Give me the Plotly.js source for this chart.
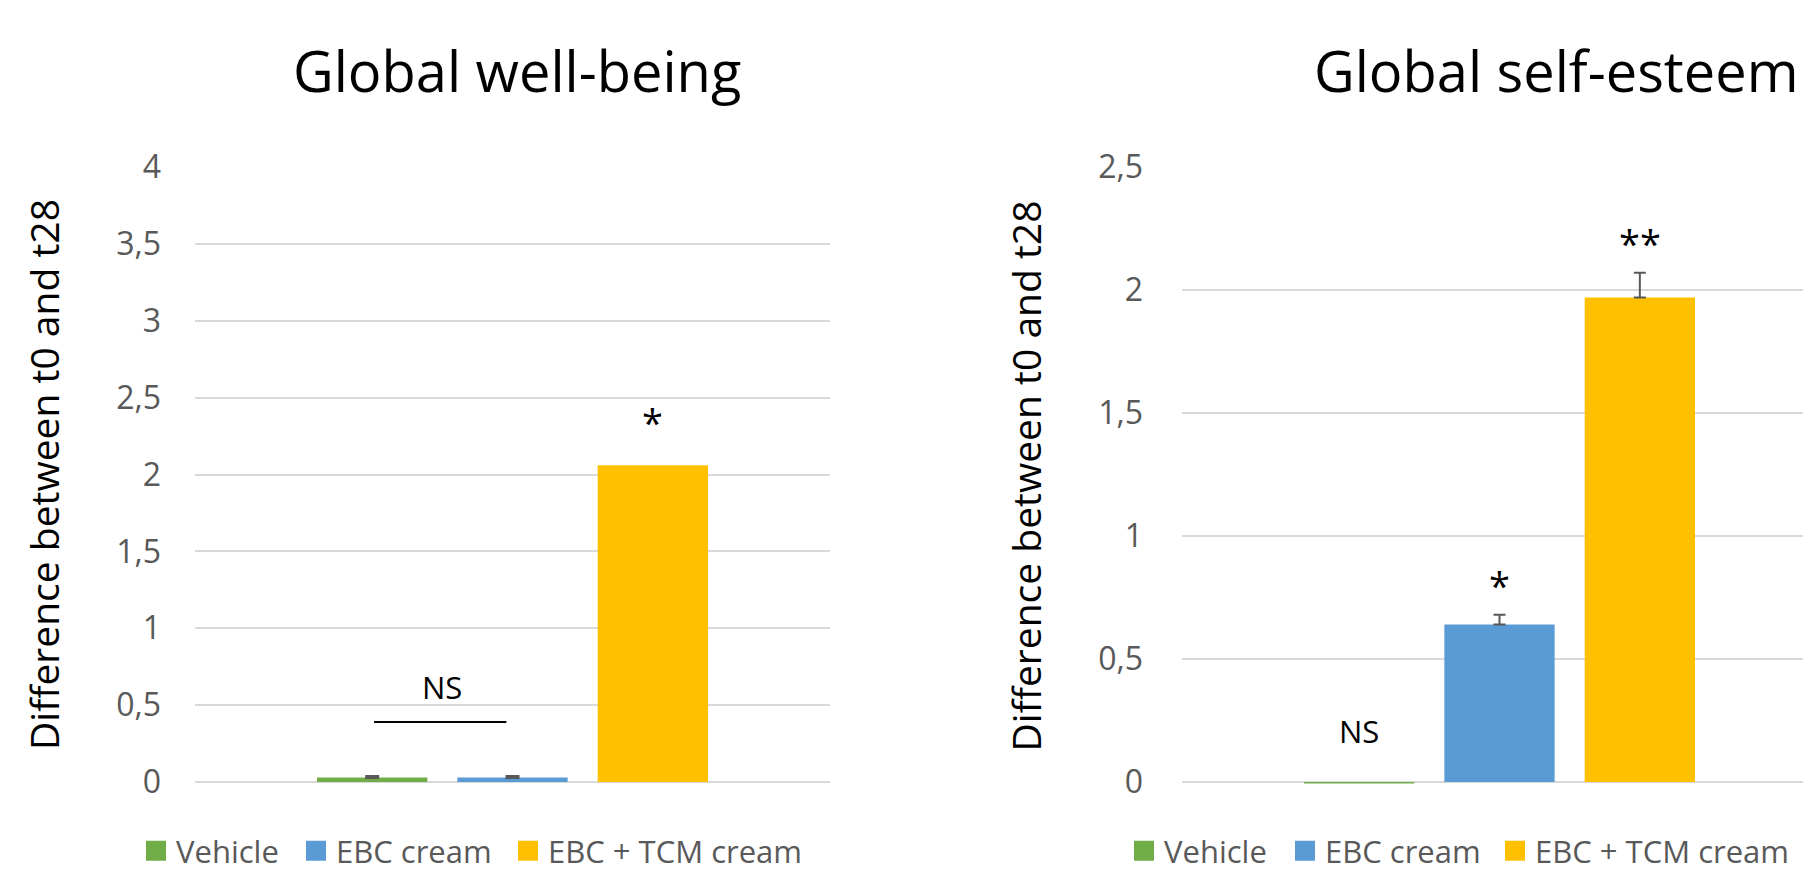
<!DOCTYPE html>
<html>
<head>
<meta charset="utf-8">
<script src="https://cdn.plot.ly/plotly-3.0.1.min.js"></script>
<style>
  html, body { margin: 0; padding: 0; background: #ffffff; overflow: hidden; }
  #chart { width: 1803px; height: 872px; }
</style>
</head>
<body>
<div id="chart"></div>
<script>
// Treatment groups and colours
const groups = ['Vehicle', 'EBC cream', 'EBC + TCM cream'];
const groupColors = ['#70AD47', '#5B9BD5', '#FFC000'];

// Mean difference between t0 and t28 for each score
const wellBeing = [0.03, 0.03, 2.06];
const wellBeingErr = [0.005, 0.005, 0];
const selfEsteem = [-0.006, 0.64, 1.97];
const selfEsteemErr = [0, 0.04, 0.10];

// Significance marks above each bar
const wellBeingSig = ['', '', '*'];
const selfEsteemSig = ['NS', '*', '**'];
const wellBeingPairLabel = 'NS';
const wellBeingPairLevel = 0.39;

const chartTitles = ['Global well-being', 'Global self-esteem'];
const yTitle = 'Difference between t0 and t28';
const category = ['t28'];

const W = 1803, H = 872;
const FONT = '"Open Sans", Lato, sans-serif';
const BARGAP = 0.337;

// plot geometry (pixels)
const plotW = 635;
const left1 = 195, left2 = 1182;
const zeroPx = 782;
const topPx = 167;
// left edge of each legend entry, per panel
const legendLeft = [[136, 296, 508], [1124, 1285, 1495]];

// keeps value 0 on the same pixel row for both panels
function yDomain(range) {
  const pxPerUnit = (zeroPx - topPx) / range[1];
  const b = zeroPx + (-range[0]) * pxPerUnit;
  return [(H - b) / H, (H - topPx) / H];
}

const legendFont = { family: FONT, size: 31, color: '#595959' };
const legends = {};
const traces = [];
function addPanel(panel, values, errs, xa, ya, capThickness, capWidth) {
  groups.forEach((g, i) => {
    traces.push({
      type: 'bar', x: category, y: [values[i]], name: g, showlegend: false,
      marker: { color: groupColors[i] },
      error_y: { type: 'data', array: [errs[i]], arrayminus: [0], symmetric: false,
                 visible: errs[i] > 0, color: '#595959', thickness: capThickness, width: capWidth },
      xaxis: xa, yaxis: ya, hoverinfo: 'skip'
    });
  });
  // square legend keys, one legend box per entry
  groups.forEach((g, i) => {
    const n = panel * groups.length + i + 1;
    const id = n === 1 ? 'legend' : 'legend' + n;
    legends[id] = {
      orientation: 'h', x: legendLeft[panel][i] / W, xanchor: 'left',
      y: (H - 851) / H, yanchor: 'middle', font: legendFont,
      itemclick: false, itemdoubleclick: false, bgcolor: 'rgba(0,0,0,0)'
    };
    traces.push({
      type: 'scatter', mode: 'markers', x: [null], y: [null], name: g,
      marker: { symbol: 'square', size: 16, color: groupColors[i], line: { color: groupColors[i], width: 4 } },
      xaxis: xa, yaxis: ya, legend: id, hoverinfo: 'skip'
    });
  });
}
addPanel(0, wellBeing, wellBeingErr, 'x', 'y', 3, 7);
addPanel(1, selfEsteem, selfEsteemErr, 'x2', 'y2', 2, 6);

// x position (category units) of each bar centre inside the cluster
const slot = (1 - BARGAP) / groups.length;
const barX = groups.map((_, i) => (i - (groups.length - 1) / 2) * slot);

const nsFont = { family: FONT, size: 31, color: '#000000' };
const starFont = { family: FONT, size: 38, color: '#000000' };
const annotations = [];
wellBeingSig.forEach((s, i) => {
  if (!s) return;
  annotations.push({ xref: 'x', yref: 'y', x: barX[i], y: wellBeing[i] + wellBeingErr[i],
    yanchor: 'bottom', yshift: 15, text: s, showarrow: false, font: starFont });
});
selfEsteemSig.forEach((s, i) => {
  const top = Math.max(selfEsteem[i], 0) + selfEsteemErr[i];
  const isNS = s === 'NS';
  annotations.push({ xref: 'x2', yref: 'y2', x: barX[i], y: top,
    yanchor: 'bottom', yshift: isNS ? 28 : 2, text: s, showarrow: false,
    font: isNS ? nsFont : starFont });
});
annotations.push({ xref: 'x', yref: 'y', x: (barX[0] + barX[1]) / 2, y: wellBeingPairLevel,
  yanchor: 'bottom', yshift: 12, text: wellBeingPairLabel, showarrow: false, font: nsFont });

// chart titles
const titleFont = { family: FONT, size: 56, color: '#000000' };
annotations.push({ xref: 'paper', yref: 'paper', x: 517 / W, y: (H - 70) / H,
  xanchor: 'center', yanchor: 'middle', text: chartTitles[0], showarrow: false, font: titleFont });
annotations.push({ xref: 'paper', yref: 'paper', x: 1556 / W, y: (H - 70) / H,
  xanchor: 'center', yanchor: 'middle', text: chartTitles[1], showarrow: false, font: titleFont });

const shapes = [{
  type: 'line', xref: 'x', yref: 'y',
  x0: barX[0] + 0.003, x1: barX[1] - 0.003 - slot * 0.03,
  y0: wellBeingPairLevel, y1: wellBeingPairLevel,
  line: { color: '#000000', width: 2 }
}];

const yRange1 = [0, 4];
const yRange2 = [-0.012, 2.5];

const axisY = (range, anchor, labelGap) => ({
  range: range, domain: yDomain(range), anchor: anchor, dtick: 0.5, tick0: 0,
  showgrid: true, gridcolor: '#D9D9D9', gridwidth: 2,
  zeroline: true, zerolinecolor: '#D9D9D9', zerolinewidth: 2,
  showline: false, ticks: '', ticklabelstandoff: labelGap,
  tickfont: { family: FONT, size: 32, color: '#595959' },
  title: { text: yTitle, font: { family: FONT, size: 39, color: '#000000' }, standoff: 44 },
  fixedrange: true
});

const layout = Object.assign({
  width: W, height: H,
  margin: { l: 0, r: 0, t: 0, b: 0, autoexpand: false },
  paper_bgcolor: '#ffffff', plot_bgcolor: '#ffffff',
  separators: ', ',
  barmode: 'group', bargap: BARGAP, bargroupgap: 0.214,
  xaxis: { type: 'category', domain: [left1 / W, (left1 + plotW) / W], range: [-0.5, 0.5],
           anchor: 'y', showticklabels: false, showgrid: false, zeroline: false, showline: false, fixedrange: true },
  xaxis2: { type: 'category', domain: [left2 / W, 1], range: [-0.5, -0.5 + (W - left2) / plotW],
            anchor: 'y2', showticklabels: false, showgrid: false, zeroline: false, showline: false, fixedrange: true },
  yaxis: axisY(yRange1, 'x', 33),
  yaxis2: axisY(yRange2, 'x2', 38),
  annotations: annotations,
  shapes: shapes,
  showlegend: true
}, legends);

Plotly.newPlot('chart', traces, layout, { displayModeBar: false, staticPlot: true });
</script>
</body>
</html>
